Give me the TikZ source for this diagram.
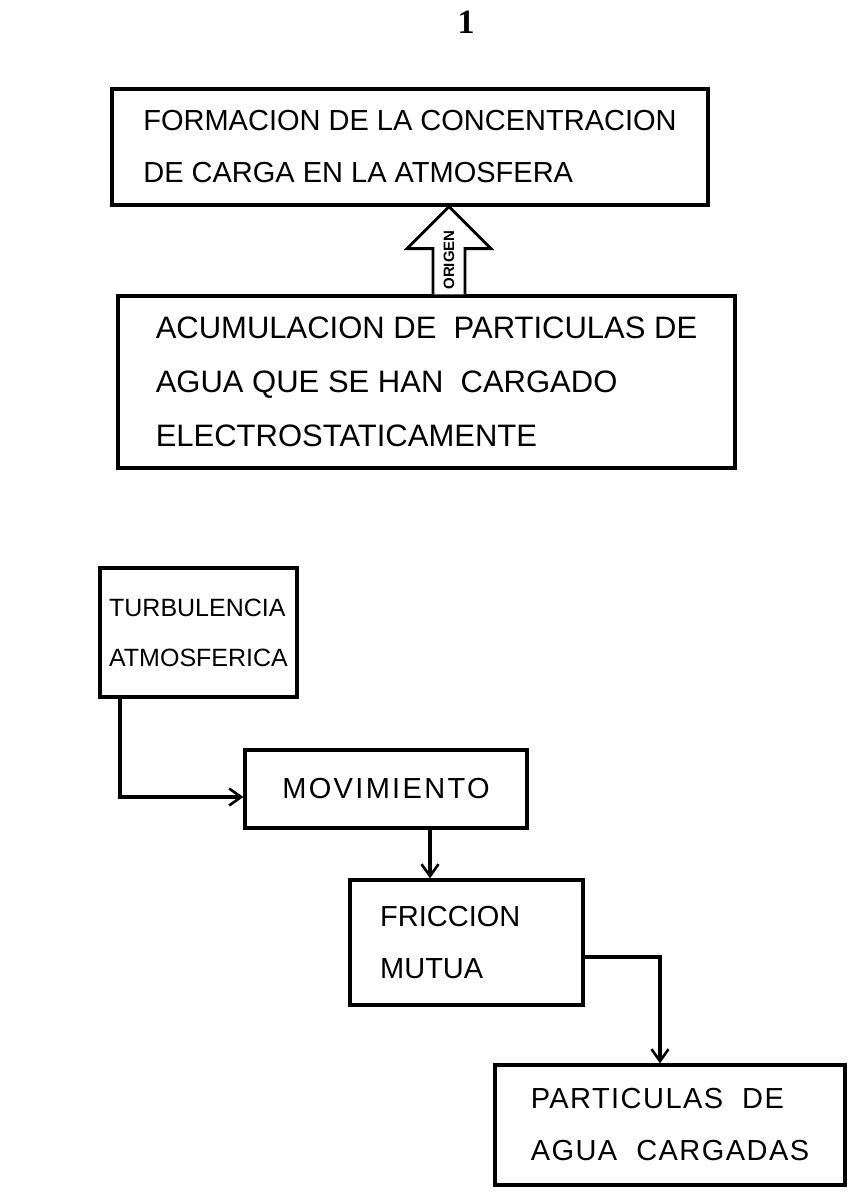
\documentclass[tikz,border=0pt]{standalone}
\usepackage{fontspec}
\setmainfont{Liberation Sans}
\newfontfamily\serifnum{Liberation Serif}
\usetikzlibrary{arrows.meta,calc}
\begin{document}
\begin{tikzpicture}[x=1pt,y=-1pt,
  box/.style={draw, line width=3.2pt, align=left, inner sep=0pt, font=\fontsize{29}{52}\selectfont},
  conn/.style={draw, line width=3.4pt, -{Straight Barb[length=12pt,width=17pt,line width=2.6pt]}},
  hollow/.style={line width=2.8pt, fill=white, line join=miter},
]
\useasboundingbox (0,0) rectangle (865,1199);
\node[font=\serifnum\bfseries\fontsize{34}{34}\selectfont] (pg) at (466,22) {1};

\node[box, minimum width=596, minimum height=116] (b1) at (410,147)
  {FORMACION DE LA CONCENTRACION\\DE CARGA EN LA ATMOSFERA};
\node[box, minimum width=617, minimum height=172, font=\fontsize{31}{54}\selectfont] (b2) at (426.5,382)
  {ACUMULACION DE\ \ PARTICULAS DE\\AGUA QUE SE HAN\ \ CARGADO\\ ELECTROSTATICAMENTE\hspace*{5em}};
\node[box, minimum width=197, minimum height=129, font=\fontsize{25}{50}\selectfont] (b3) at (198.5,632.5)
  {TURBULENCIA\\ATMOSFERICA};
\node[box, minimum width=282, minimum height=78] (b4) at (386,789)
  {\addfontfeature{LetterSpace=8}MOVIMIENTO};
\node[box, minimum width=233, minimum height=125] (b5) at (466.5,942.5)
  {FRICCION\\MUTUA\hspace*{2.4em}};
\node[box, minimum width=350, minimum height=120] (b6) at (670,1125)
  {\addfontfeature{LetterSpace=5}PARTICULAS\ \ DE\\\addfontfeature{LetterSpace=5}AGUA\ \ CARGADAS};

% hollow arrow ORIGEN
\coordinate (ax) at (449,0);
\draw[hollow] ($(b2.north -| ax)+(-16,0)$) -- ($(b1.south -| ax)+(-16,42)$)
  -- ($(b1.south -| ax)+(-42,42)$) -- (b1.south -| ax)
  -- ($(b1.south -| ax)+(42,42)$) -- ($(b1.south -| ax)+(16,42)$)
  -- ($(b2.north -| ax)+(16,0)$);
\node[rotate=90, font=\bfseries\fontsize{15}{15}\selectfont, inner sep=0pt] (org) at (449,260) {ORIGEN};

% connectors
\coordinate (k1) at (120,797);
\draw[conn] (b3.south -| k1) |- (b4.west |- k1);
\coordinate (k2) at (430,0);
\draw[conn] (b4.south -| k2) -- (b5.north -| k2);
\coordinate (k3) at (660,957);
\draw[conn] (b5.east |- k3) -| (b6.north -| k3);
\end{tikzpicture}
\end{document}
